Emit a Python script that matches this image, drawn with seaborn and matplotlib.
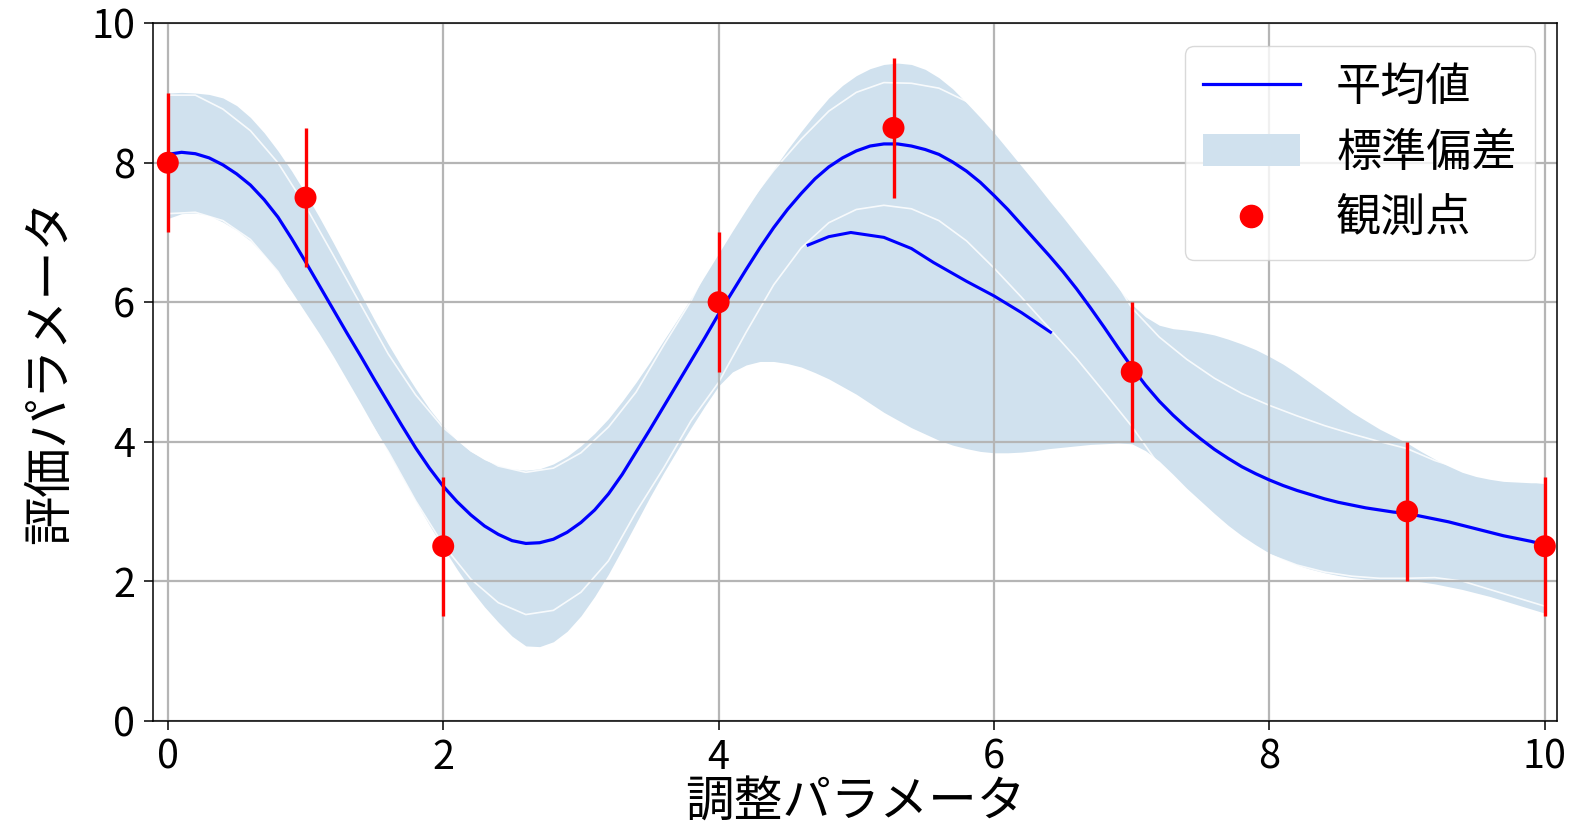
import matplotlib
matplotlib.use("Agg")
import matplotlib.pyplot as plt
import numpy as np
import pandas as pd
import seaborn as sns
from matplotlib.lines import Line2D
from matplotlib.patches import Patch

# ---------------- data ----------------
x_fine = [round(0.1 * i, 1) for i in range(101)]

mean_vals = [8.12, 8.15, 8.13, 8.07, 7.97, 7.84, 7.68, 7.47, 7.22, 6.91,
             6.58, 6.24, 5.90, 5.56, 5.23, 4.89, 4.56, 4.23, 3.91, 3.62,
             3.36, 3.14, 2.95, 2.79, 2.67, 2.58, 2.54, 2.55, 2.60, 2.70,
             2.84, 3.02, 3.25, 3.53, 3.85, 4.17, 4.50, 4.83, 5.16, 5.49,
             5.83, 6.15, 6.47, 6.78, 7.07, 7.33, 7.56, 7.77, 7.94, 8.07,
             8.17, 8.24, 8.27, 8.27, 8.24, 8.19, 8.12, 8.01, 7.88, 7.72,
             7.53, 7.33, 7.11, 6.89, 6.67, 6.44, 6.19, 5.92, 5.64, 5.35,
             5.07, 4.81, 4.58, 4.38, 4.20, 4.04, 3.89, 3.76, 3.64, 3.54,
             3.45, 3.37, 3.30, 3.24, 3.18, 3.13, 3.09, 3.05, 3.02, 2.99,
             2.97, 2.93, 2.89, 2.85, 2.80, 2.75, 2.70, 2.65, 2.61, 2.57,
             2.52]

band_upper = [9.00, 9.01, 9.00, 8.98, 8.93, 8.82, 8.65, 8.43, 8.17, 7.88,
              7.56, 7.22, 6.86, 6.49, 6.12, 5.75, 5.40, 5.07, 4.76, 4.47,
              4.22, 4.02, 3.86, 3.74, 3.66, 3.61, 3.59, 3.61, 3.68, 3.79,
              3.94, 4.12, 4.33, 4.58, 4.85, 5.14, 5.45, 5.75, 6.06, 6.38,
              6.70, 7.02, 7.33, 7.63, 7.91, 8.19, 8.45, 8.70, 8.93, 9.11,
              9.25, 9.35, 9.41, 9.43, 9.41, 9.34, 9.22, 9.06, 8.86, 8.65,
              8.43, 8.19, 7.95, 7.71, 7.46, 7.22, 6.97, 6.72, 6.47, 6.21,
              5.97, 5.79, 5.67, 5.62, 5.60, 5.57, 5.53, 5.47, 5.40, 5.32,
              5.22, 5.11, 4.98, 4.84, 4.70, 4.56, 4.42, 4.30, 4.18, 4.08,
              3.98, 3.86, 3.75, 3.65, 3.56, 3.50, 3.46, 3.43, 3.42, 3.41,
              3.41]

band_lower = [7.20, 7.27, 7.28, 7.24, 7.15, 7.03, 6.88, 6.67, 6.43, 6.15,
              5.85, 5.55, 5.23, 4.89, 4.55, 4.20, 3.85, 3.49, 3.14, 2.80,
              2.48, 2.17, 1.88, 1.63, 1.41, 1.21, 1.07, 1.06, 1.13, 1.28,
              1.50, 1.78, 2.10, 2.46, 2.83, 3.20, 3.55, 3.88, 4.20, 4.51,
              4.80, 5.00, 5.10, 5.15, 5.15, 5.12, 5.07, 4.99, 4.90, 4.79,
              4.68, 4.55, 4.42, 4.31, 4.20, 4.11, 4.02, 3.95, 3.90, 3.86,
              3.84, 3.84, 3.85, 3.87, 3.90, 3.92, 3.94, 3.96, 3.97, 3.98,
              3.97, 3.87, 3.72, 3.53, 3.33, 3.15, 2.97, 2.80, 2.65, 2.52,
              2.40, 2.31, 2.23, 2.17, 2.12, 2.08, 2.05, 2.03, 2.02, 2.01,
              2.01, 1.99, 1.96, 1.92, 1.88, 1.83, 1.78, 1.72, 1.66, 1.60,
              1.54]

# half-width of the inner band (its faint white edges), every 0.2
std_vals = [0.85, 0.84, 0.80, 0.78, 0.78, 0.80, 0.78, 0.74, 0.70, 0.76,
            0.84, 0.92, 0.98, 1.02, 1.02, 1.00, 0.96, 0.86, 0.88, 0.86,
            0.98, 0.90, 0.82, 0.78, 0.80, 0.84, 0.88, 0.90, 0.95, 1.00,
            1.04, 1.04, 1.04, 1.00, 0.93, 0.85, 0.92, 0.98, 1.02, 1.05,
            1.07, 1.07, 1.05, 1.02, 0.98, 0.93, 0.84, 0.80, 0.82, 0.85,
            0.88]

alt_x = [4.65, 4.80, 4.96, 5.20, 5.40, 5.56, 5.80, 6.00, 6.20, 6.41]
alt_y = [6.82, 6.94, 7.00, 6.93, 6.77, 6.57, 6.30, 6.09, 5.85, 5.57]

obs_x = [0, 1, 2, 4, 5.27, 7, 9, 10]
obs_y = [8, 7.5, 2.5, 6, 8.5, 5, 3, 2.5]
obs_err = [1, 1, 1, 1, 1, 1, 1, 1]

xticks = [0, 2, 4, 6, 8, 10]
yticks = [0, 2, 4, 6, 8, 10]
xlabel = "調整パラメータ"
ylabel = "評価パラメータ"
legend_labels = ["平均値", "標準偏差", "観測点"]

# ---------------- style ----------------
plt.rcParams['font.family'] = ['Noto Sans CJK JP', 'DejaVu Sans']
band_color = '#d0e1ee'

fig = plt.figure(figsize=(15.69, 8.30), dpi=100)
ax = fig.add_axes([0.0973, 0.1319, 0.8952, 0.8400])

df = pd.DataFrame({'x': x_fine, 'mean': mean_vals,
                   'up': band_upper, 'lo': band_lower})
dfs = pd.DataFrame({'x': x_fine[::2], 'mean': mean_vals[::2], 'std': std_vals})

ax.fill_between(df['x'], df['lo'], df['up'], color=band_color, lw=0, zorder=1)
ax.plot(dfs['x'], dfs['mean'] + dfs['std'], color='white', lw=1.2,
        alpha=0.85, zorder=1.2)
ax.plot(dfs['x'], dfs['mean'] - dfs['std'], color='white', lw=1.2,
        alpha=0.85, zorder=1.2)

sns.lineplot(data=df, x='x', y='mean', ax=ax, color='blue', linewidth=2.3,
             sort=False, legend=False, zorder=2)
sns.lineplot(x=alt_x, y=alt_y, ax=ax, color='blue', linewidth=2.2,
             sort=False, legend=False, zorder=2)

ax.errorbar(obs_x, obs_y, yerr=obs_err, fmt='none', ecolor='red',
            elinewidth=2.4, capsize=0, zorder=3)
sns.scatterplot(x=obs_x, y=obs_y, ax=ax, color='red', s=250,
                edgecolor='none', legend=False, zorder=4)

ax.set_xlim(-0.11, 10.09)
ax.set_ylim(0, 10)
ax.set_xticks(xticks)
ax.set_yticks(yticks)
ax.grid(True, color='#b5b5b5', lw=1.6)
ax.set_axisbelow('line')
for sp in ax.spines.values():
    sp.set_color('black')
    sp.set_linewidth(1.1)
ax.tick_params(axis='both', labelsize=28.5, length=6.5, width=1.1, pad=6,
               direction='out', color='black')
ax.set_xlabel(xlabel, fontsize=35, labelpad=0)
ax.set_ylabel(ylabel, fontsize=35.5, labelpad=11)

handles = [Line2D([0], [0], color='blue', lw=2.3),
           Patch(facecolor=band_color, edgecolor='none'),
           Line2D([0], [0], color='red', marker='o', ls='none', markersize=16)]
leg = ax.legend(handles, legend_labels, loc='upper right', fontsize=32.5,
                labelspacing=0.44, handlelength=2.15, handletextpad=0.8,
                borderpad=0.4, fancybox=True, framealpha=0.8)
leg.get_frame().set_edgecolor('#d0d0d0')

fig.savefig('out.png', dpi=100)
